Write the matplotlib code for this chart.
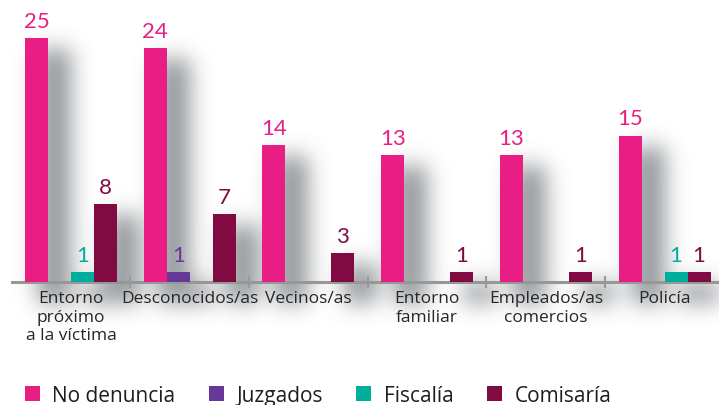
import numpy as np
import matplotlib
matplotlib.use("Agg")
import matplotlib.pyplot as plt
from matplotlib.patches import Patch

plt.rcParams['font.family'] = ['Open Sans', 'DejaVu Sans']

categories = ["Entorno\npróximo\na la víctima", "Desconocidos/as", "Vecinos/as",
              "Entorno\nfamiliar", "Empleados/as\ncomercios", "Policía"]
series_names = ["No denuncia", "Juzgados", "Fiscalía", "Comisaría"]
no_denuncia = [25, 24, 14, 13, 13, 15]
juzgados = [0, 1, 0, 0, 0, 0]
fiscalia = [1, 0, 0, 0, 0, 1]
comisaria = [8, 7, 3, 1, 1, 1]
series_values = [no_denuncia, juzgados, fiscalia, comisaria]
colors = ["#E91E84", "#663998", "#00AE9D", "#800A41"]

W, H = 719, 406
fig = plt.figure(figsize=(W / 100, H / 100), dpi=100)
px_group = 118.7
ax_left = 11.7
base = 123
px_unit = 9.76
ax = fig.add_axes([ax_left / W, base / H, (W - ax_left) / W, (H - base) / H])
ax.set_xlim(-0.5, -0.5 + (W - ax_left) / px_group)
ax.set_ylim(0, (H - base) / px_unit)
ax.patch.set_facecolor('none')

n = len(categories)
centers = np.arange(n)
bw = 23 / px_group
bars_all = []
for j, (vals, col) in enumerate(zip(series_values, colors)):
    xs = centers + (j - 1.5) * bw
    bars = ax.bar(xs, vals, width=bw, color=col, zorder=3, linewidth=0)
    bars_all.append(bars)
    for x, v in zip(xs, vals):
        if v > 0:
            ax.annotate(str(v), (x, v), xytext=(0, 8), textcoords='offset points',
                        ha='center', va='baseline', color=col, fontsize=16,
                        family=['Lato', 'DejaVu Sans'], zorder=4)

for s in ['top', 'left', 'right']:
    ax.spines[s].set_visible(False)
ax.spines['bottom'].set_color('#979797')
ax.spines['bottom'].set_linewidth(2.2)
ax.set_yticks([])
ax.set_xticks(centers, categories)
ax.set_xticks(centers[:-1] + 0.5, minor=True)
ax.tick_params(axis='x', which='major', length=0, pad=6, labelsize=12.5, labelcolor='#262626')
ax.tick_params(axis='x', which='minor', direction='inout', length=8, width=1.5, color='#9a9a9a')

# blurred drop shadows computed from the bars
dx, dy, spread, sigma = 18, -16, 5, 11.0
mask = np.zeros((H, W))
for bars in bars_all:
    for r in bars:
        h = r.get_height()
        if h <= 0:
            continue
        x0 = r.get_x()
        (px0, py0), (px1, py1) = ax.transData.transform([(x0, 0), (x0 + r.get_width(), h)])
        c0 = int(np.clip(round(px0 + dx - spread), 0, W)); c1 = int(np.clip(round(px1 + dx + spread), 0, W))
        r0 = int(np.clip(round(py0 + dy - spread), 0, H)); r1 = int(np.clip(round(py1 + dy + spread), 0, H))
        mask[r0:r1, c0:c1] = 1.0
rad = int(3 * sigma)
k = np.exp(-0.5 * (np.arange(-rad, rad + 1) / sigma) ** 2)
k /= k.sum()
pad = np.pad(mask, rad, mode='constant')
blur = np.apply_along_axis(lambda v: np.convolve(v, k, mode='same'), 1, pad)
blur = np.apply_along_axis(lambda v: np.convolve(v, k, mode='same'), 0, blur)
blur = blur[rad:-rad, rad:-rad]
img = np.zeros((H, W, 4))
img[..., 0] = 0.40
img[..., 1] = 0.42
img[..., 2] = 0.44
img[..., 3] = np.clip(blur * 0.7, 0, 1)
fig.figimage(img, xo=0, yo=0, origin='lower', zorder=-1)

handles = [Patch(facecolor=c, edgecolor='none') for c in colors]
leg = fig.legend(handles, series_names, loc='lower left', bbox_to_anchor=(25 / W, -1 / H),
                 ncol=4, frameon=False, fontsize=15, handlelength=0.72, handleheight=0.72,
                 handletextpad=0.6, columnspacing=1.6, borderpad=0, borderaxespad=0)
for t in leg.get_texts():
    t.set_color('#1e1e1e')

fig.savefig('out.png', dpi=100)
